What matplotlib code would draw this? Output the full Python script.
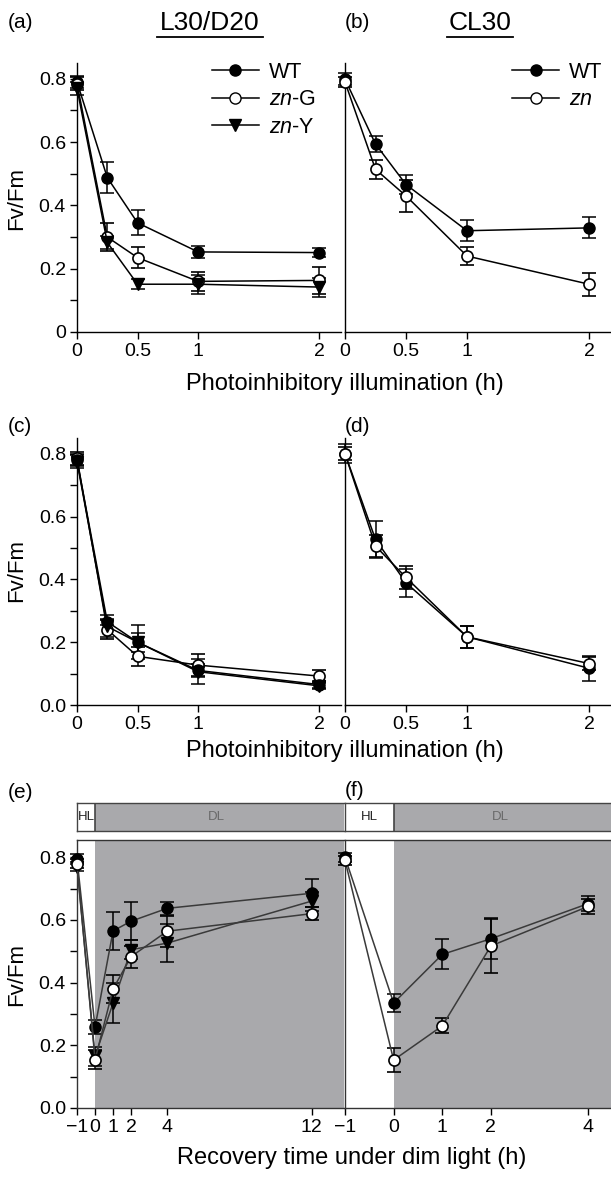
import matplotlib
matplotlib.use("Agg")
import matplotlib.pyplot as plt
from matplotlib.lines import Line2D
import numpy as np

plt.rcParams['font.family'] = ['Liberation Sans', 'DejaVu Sans']
plt.rcParams['mathtext.fontset'] = 'custom'
plt.rcParams['mathtext.it'] = 'Liberation Sans:italic'
plt.rcParams['mathtext.rm'] = 'Liberation Sans'

# ---- data ----
t_photo = [0, 0.25, 0.5, 1, 2]

# (a) L30/D20
a_wt = [0.79, 0.488, 0.345, 0.253, 0.251]
a_wt_err = [0.02, 0.05, 0.04, 0.02, 0.015]
a_zng = [0.785, 0.30, 0.235, 0.16, 0.163]
a_zng_err = [0.02, 0.045, 0.033, 0.03, 0.042]
a_zny = [0.77, 0.283, 0.151, 0.151, 0.142]
a_zny_err = [0.02, 0.02, 0.015, 0.03, 0.03]

# (b) CL30
b_wt = [0.799, 0.594, 0.466, 0.32, 0.329]
b_wt_err = [0.02, 0.024, 0.03, 0.034, 0.033]
b_zn = [0.79, 0.514, 0.43, 0.24, 0.151]
b_zn_err = [0.015, 0.03, 0.05, 0.029, 0.037]

# (c)
c_wt = [0.78, 0.265, 0.20, 0.11, 0.065]
c_wt_err = [0.02, 0.01, 0.055, 0.02, 0.01]
c_zng = [0.785, 0.24, 0.155, 0.127, 0.092]
c_zng_err = [0.02, 0.03, 0.03, 0.035, 0.02]
c_zny = [0.775, 0.25, 0.20, 0.106, 0.061]
c_zny_err = [0.02, 0.035, 0.03, 0.04, 0.01]

# (d)
d_wt = [0.80, 0.527, 0.389, 0.217, 0.117]
d_wt_err = [0.03, 0.058, 0.045, 0.035, 0.04]
d_zn = [0.80, 0.506, 0.406, 0.217, 0.132]
d_zn_err = [0.02, 0.035, 0.038, 0.035, 0.022]

# (e) recovery, L30/D20
t_rec_e = [-1, 0, 1, 2, 4, 12]
e_wt = [0.795, 0.258, 0.565, 0.596, 0.637, 0.685]
e_wt_err = [0.015, 0.022, 0.06, 0.06, 0.02, 0.045]
e_zng = [0.78, 0.154, 0.38, 0.483, 0.564, 0.62]
e_zng_err = [0.015, 0.03, 0.045, 0.035, 0.05, 0.02]
e_zny = [0.77, 0.165, 0.335, 0.505, 0.526, 0.66]
e_zny_err = [0.015, 0.03, 0.065, 0.03, 0.06, 0.03]

# (f) recovery, CL30
t_rec_f = [-1, 0, 1, 2, 4]
f_wt = [0.80, 0.335, 0.49, 0.54, 0.652]
f_wt_err = [0.015, 0.03, 0.048, 0.065, 0.025]
f_zn = [0.79, 0.153, 0.262, 0.517, 0.643]
f_zn_err = [0.015, 0.037, 0.024, 0.085, 0.025]

W, H = 611, 1178
fig = plt.figure(figsize=(W / 100, H / 100), dpi=100)


def px_axes(l, r, t, b):
    return fig.add_axes([l / W, 1 - b / H, (r - l) / W, (b - t) / H])


def style(ax, ylab=True, box=False):
    for s in ['top', 'right']:
        ax.spines[s].set_visible(box)
    for s in ax.spines.values():
        s.set_linewidth(1.0)
    ax.tick_params(direction='out', length=5, width=1, labelsize=14, pad=3)
    ax.tick_params(which='minor', direction='out', length=5, width=1)
    if not ylab:
        ax.tick_params(axis='y', which='both', left=False, labelleft=False)


def series(ax, x, y, err, kind, lc='k'):
    mk = {'wt': dict(marker='o', mfc='k', mec='k', ms=8),
          'zng': dict(marker='o', mfc='white', mec='k', ms=8, mew=1.2),
          'zny': dict(marker='v', mfc='k', mec='k', ms=9)}[kind]
    ax.errorbar(x, y, yerr=err, color=lc, lw=1.1, ecolor='k', elinewidth=1.1,
                capsize=5, capthick=1.1, zorder=3, clip_on=False, **mk)


lab_wt = 'WT'
lab_zng = r'$\it{zn}$-G'
lab_zny = r'$\it{zn}$-Y'
lab_zn = r'$\it{zn}$'

# ---- row 1 ----
ax_a = px_axes(77, 341, 63, 332)
ax_b = px_axes(345, 611, 63, 332)
# ---- row 2 ----
ax_c = px_axes(77, 341, 438, 705)
ax_d = px_axes(345, 611, 438, 705)

for ax in (ax_a, ax_b, ax_c, ax_d):
    ax.set_xlim(0, 2.18)
    ax.set_ylim(0, 0.85)
    ax.set_xticks([0, 0.5, 1, 2])
    ax.set_xticklabels(['0', '0.5', '1', '2'])
    ax.set_yticks(np.arange(0, 0.81, 0.2))
    ax.set_yticks(np.arange(0.1, 0.81, 0.2), minor=True)

style(ax_a)
style(ax_b, ylab=False)
style(ax_c)
style(ax_d, ylab=False)
ax_a.set_yticklabels(['0', '0.2', '0.4', '0.6', '0.8'])
ax_c.set_yticklabels(['0.0', '0.2', '0.4', '0.6', '0.8'])

series(ax_a, t_photo, a_wt, a_wt_err, 'wt')
series(ax_a, t_photo, a_zng, a_zng_err, 'zng')
series(ax_a, t_photo, a_zny, a_zny_err, 'zny')
series(ax_b, t_photo, b_wt, b_wt_err, 'wt')
series(ax_b, t_photo, b_zn, b_zn_err, 'zng')
series(ax_c, t_photo, c_zng, c_zng_err, 'zng')
series(ax_c, t_photo, c_wt, c_wt_err, 'wt')
series(ax_c, t_photo, c_zny, c_zny_err, 'zny')
series(ax_d, t_photo, d_wt, d_wt_err, 'wt')
series(ax_d, t_photo, d_zn, d_zn_err, 'zng')

h = [Line2D([], [], color='k', lw=1.1, marker='o', mfc='k', ms=8),
     Line2D([], [], color='k', lw=1.1, marker='o', mfc='white', mec='k', ms=8),
     Line2D([], [], color='k', lw=1.1, marker='v', mfc='k', ms=9)]
leg_kw = dict(loc='upper left', frameon=False, fontsize=15.5, handlelength=2.2,
              handletextpad=0.45, labelspacing=0.3, borderaxespad=0, borderpad=0)
ax_a.legend(h, [lab_wt, lab_zng, lab_zny], bbox_to_anchor=(0.51, 1.005), **leg_kw)
ax_b.legend(h[:2], [lab_wt, lab_zn], bbox_to_anchor=(0.628, 1.005), **leg_kw)

# ---- row 3 ----
gray = '#a9a9ac'
ax_e = px_axes(77, 344, 840, 1108)
ax_f = px_axes(345, 611, 840, 1108)
bar_e = px_axes(77, 344, 803, 831)
bar_f = px_axes(345, 611, 803, 831)

ax_e.set_xlim(-1, 13.8)
ax_f.set_xlim(-1, 4.47)
bar_e.set_xlim(-1, 13.8)
bar_f.set_xlim(-1, 4.47)

for ax, xt in ((ax_e, t_rec_e), (ax_f, t_rec_f)):
    ax.set_ylim(0, 0.855)
    ax.axvspan(0, 20, color=gray, lw=0, zorder=0)
    ax.set_xticks(xt)
    ax.set_xticklabels(['\u22121'] + [str(v) for v in xt[1:]])
    ax.set_yticks(np.arange(0, 0.81, 0.2))
    ax.set_yticks(np.arange(0.1, 0.81, 0.2), minor=True)

style(ax_e, box=True)
style(ax_f, ylab=False, box=True)
ax_e.spines['right'].set_visible(False)
ax_f.spines['right'].set_visible(False)
ax_e.set_yticklabels(['0.0', '0.2', '0.4', '0.6', '0.8'])
for ax in (ax_e, ax_f):
    for s in ax.spines.values():
        s.set_color('#333333')

lc = '#3a3a3a'
series(ax_e, t_rec_e, e_wt, e_wt_err, 'wt', lc)
series(ax_e, t_rec_e, e_zny, e_zny_err, 'zny', lc)
series(ax_e, t_rec_e, e_zng, e_zng_err, 'zng', lc)
series(ax_f, t_rec_f, f_wt, f_wt_err, 'wt', lc)
series(ax_f, t_rec_f, f_zn, f_zn_err, 'zng', lc)

for bax in (bar_e, bar_f):
    bax.set_ylim(0, 1)
    bax.axvspan(0, 20, color=gray, lw=0)
    bax.axvline(0, color='#444444', lw=1.2)
    bax.set_xticks([])
    bax.set_yticks([])
    for s in bax.spines.values():
        s.set_color('#444444')
        s.set_linewidth(1.0)
    bax.spines['right'].set_visible(False)
bar_e.text(-0.5, 0.5, 'HL', ha='center', va='center', fontsize=9.5, color='#222222', clip_on=True)
bar_e.text(6.7, 0.5, 'DL', ha='center', va='center', fontsize=9.5, color='#6a6a6a')
bar_f.text(-0.5, 0.5, 'HL', ha='center', va='center', fontsize=9.5, color='#222222')
bar_f.text(2.2, 0.5, 'DL', ha='center', va='center', fontsize=9.5, color='#6a6a6a')

# ---- text ----
fs_lab = 16
fig.text(8 / W, 1 - 22 / H, '(a)', fontsize=15, va='center')
fig.text(345 / W, 1 - 22 / H, '(b)', fontsize=15, va='center')
fig.text(8 / W, 1 - 427 / H, '(c)', fontsize=15, va='center')
fig.text(345 / W, 1 - 426 / H, '(d)', fontsize=15, va='center')
fig.text(8 / W, 1 - 793 / H, '(e)', fontsize=15, va='center')
fig.text(345 / W, 1 - 790 / H, '(f)', fontsize=15, va='center')

fig.text(210 / W, 1 - 23 / H, 'L30/D20', fontsize=19, ha='center', va='center')
fig.text(480 / W, 1 - 23 / H, 'CL30', fontsize=19, ha='center', va='center')
fig.add_artist(Line2D([157 / W, 263 / W], [1 - 37 / H, 1 - 37 / H], color='k', lw=1.3))
fig.add_artist(Line2D([447 / W, 513 / W], [1 - 37 / H, 1 - 37 / H], color='k', lw=1.3))

for yc in (198, 571, 974):
    fig.text(17 / W, 1 - yc / H, 'Fv/Fm', fontsize=fs_lab, rotation=90, ha='center', va='center')

fig.text(345 / W, 1 - 384 / H, 'Photoinhibitory illumination (h)', fontsize=17, ha='center', va='center')
fig.text(345 / W, 1 - 751 / H, 'Photoinhibitory illumination (h)', fontsize=17, ha='center', va='center')
fig.text(352 / W, 1 - 1158 / H, 'Recovery time under dim light (h)', fontsize=17, ha='center', va='center')

fig.savefig('out.png', dpi=100)
